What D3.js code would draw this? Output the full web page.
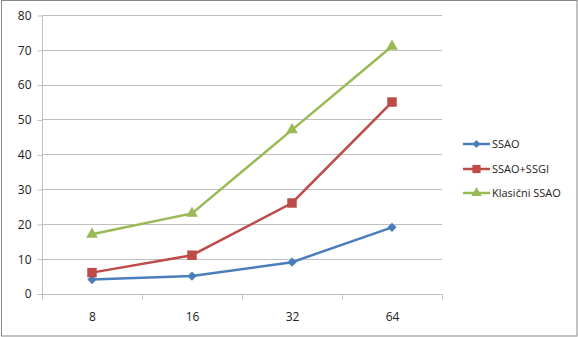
<!DOCTYPE html>
<html>
<head>
<meta charset="utf-8">
<script src="https://cdn.jsdelivr.net/npm/d3@7"></script>
<style>
  body { margin: 0; background: #fff; }
  svg text { font-family: "Open Sans", "Noto Sans", sans-serif; fill: #222; }
</style>
</head>
<body>
<div id="chart"></div>
<script>
// data
const categories = ["8", "16", "32", "64"];
const seriesNames = ["SSAO", "SSAO+SSGI", "Klasični SSAO"];
const ssao = [4, 5, 9, 19];
const ssaoSsgi = [6, 11, 26, 55];
const klasicni = [17, 23, 47, 71];
const yTicks = [0, 10, 20, 30, 40, 50, 60, 70, 80];

const W = 578, H = 337;
const MARGIN = {left: 42, right: 136, top: 15, bottom: 43.5};

const svg = d3.select('#chart').append('svg')
  .attr('width', W).attr('height', H);

// outer frame
svg.append('rect')
  .attr('x', 1.5).attr('y', 0.5)
  .attr('width', W - 2.5).attr('height', H - 1.5)
  .attr('fill', '#fff').attr('stroke', '#868686').attr('stroke-width', 1);

const xScale = d3.scaleBand()
  .domain(categories)
  .range([MARGIN.left, W - MARGIN.right]);

const yScale = d3.scaleLinear()
  .domain([0, 80])
  .range([H - MARGIN.bottom, MARGIN.top]);

// gridlines
svg.append('g').selectAll('line')
  .data(yTicks.slice(1))
  .join('line')
  .attr('x1', MARGIN.left).attr('x2', W - MARGIN.right)
  .attr('y1', d => Math.round(yScale(d)) + 0.5)
  .attr('y2', d => Math.round(yScale(d)) + 0.5)
  .attr('stroke', '#bfbfbf');

// y axis
const yAxisG = svg.append('g')
  .attr('transform', `translate(${MARGIN.left + 0.5},0.5)`)
  .call(d3.axisLeft(yScale).tickValues(yTicks).tickSize(5).tickPadding(6));
yAxisG.selectAll('path').attr('d', `M0,${MARGIN.top}V${Math.round(yScale(0))}`);
yAxisG.selectAll('line').attr('stroke', '#bfbfbf');
yAxisG.select('path').attr('stroke', '#bfbfbf');
yAxisG.selectAll('text').style('font-size', '12px').attr('fill', '#222');

// x axis
const x0 = Math.round(yScale(0)) + 0.5;
const xAxisG = svg.append('g')
  .attr('transform', `translate(0.5,${x0})`);
xAxisG.append('line')
  .attr('x1', MARGIN.left).attr('x2', W - MARGIN.right)
  .attr('stroke', '#bfbfbf');
const edges = categories.map(c => xScale(c)).concat([xScale.range()[1]]);
xAxisG.selectAll('.tk').data(edges).join('line')
  .attr('class', 'tk')
  .attr('x1', d => Math.round(d)).attr('x2', d => Math.round(d))
  .attr('y1', 0).attr('y2', 5)
  .attr('stroke', '#bfbfbf');
xAxisG.selectAll('text').data(categories).join('text')
  .attr('x', d => xScale(d) + xScale.bandwidth() / 2)
  .attr('y', 26)
  .attr('text-anchor', 'middle')
  .style('font-size', '12px')
  .text(d => d);

// series (diamond = square turned 45 degrees, like Excel's marker)
const series = [
  {name: seriesNames[0], values: ssao, color: '#4a7ebb', symbol: d3.symbolSquare, size: 42, rot: 45},
  {name: seriesNames[1], values: ssaoSsgi, color: '#be4b48', symbol: d3.symbolSquare, size: 90, rot: 0},
  {name: seriesNames[2], values: klasicni, color: '#98b954', symbol: d3.symbolTriangle, size: 60, rot: 0}
];

const cx = c => xScale(c) + xScale.bandwidth() / 2;
const line = d3.line().x((d, i) => cx(categories[i])).y(d => yScale(d));

const seriesG = svg.append('g');
series.forEach(s => {
  seriesG.append('path')
    .attr('d', line(s.values))
    .attr('fill', 'none')
    .attr('stroke', s.color)
    .attr('stroke-width', 2.5);
  seriesG.selectAll(null).data(s.values).join('path')
    .attr('transform', (d, i) => `translate(${cx(categories[i])},${yScale(d)}) rotate(${s.rot})`)
    .attr('d', d3.symbol().type(s.symbol).size(s.size))
    .attr('fill', s.color);
});

// legend
const legend = svg.append('g');
const legY = [144, 169, 193];
series.forEach((s, i) => {
  const g = legend.append('g').attr('transform', `translate(463,${legY[i]})`);
  g.append('line').attr('x1', 0).attr('x2', 27)
    .attr('stroke', s.color).attr('stroke-width', 2.5);
  g.append('path')
    .attr('transform', `translate(13.5,0) rotate(${s.rot})`)
    .attr('d', d3.symbol().type(s.symbol).size(s.size * 0.75))
    .attr('fill', s.color);
  g.append('text').attr('x', 29).attr('y', 4)
    .style('font-size', '11px')
    .text(s.name);
});
</script>
</body>
</html>
